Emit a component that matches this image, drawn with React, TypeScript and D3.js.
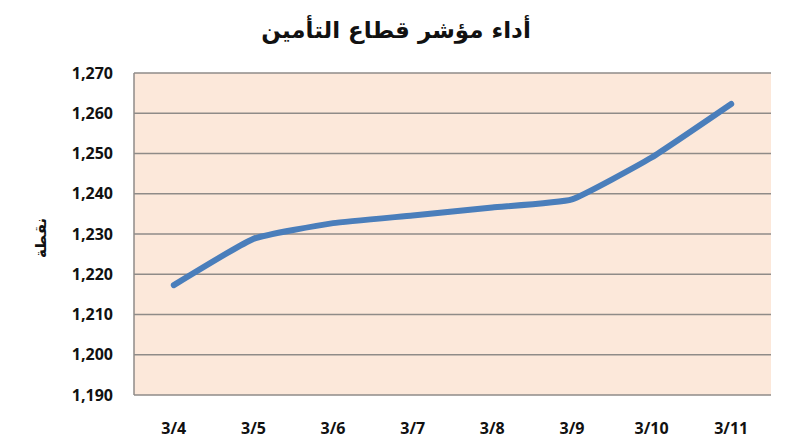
import React from 'react';
import * as d3 from 'd3';

const dates = ['3/4', '3/5', '3/6', '3/7', '3/8', '3/9', '3/10', '3/11'];
const indexValues = [1217.3, 1228.8, 1232.7, 1234.6, 1236.6, 1238.6, 1249.0, 1262.3];
const yTicks = [1190, 1200, 1210, 1220, 1230, 1240, 1250, 1260, 1270];

const title = 'أداء مؤشر قطاع التأمين';
const yLabel = 'نقطة';

const width = 792;
const height = 446;
const margin = { top: 73, right: 21, bottom: 51, left: 134 };

const App: React.FC = () => {
  const innerWidth = width - margin.left - margin.right;
  const innerHeight = height - margin.top - margin.bottom;

  const x = d3.scaleBand<string>().domain(dates).range([0, innerWidth]);
  const y = d3.scaleLinear().domain([1190, 1270]).range([innerHeight, 0]);

  // Excel-style light smoothing
  const line = d3
    .line<number>()
    .x((_, i) => (x(dates[i]) ?? 0) + x.bandwidth() / 2)
    .y(d => y(d))
    .curve(d3.curveCardinal.tension(0.6));

  const fmt = d3.format(',');

  return (
    <svg width={width} height={height} style={{ display: 'block', position: 'absolute', left: 0, top: 0 }}>
      <rect width={width} height={height} fill="#ffffff" />
      <text
        x={396}
        y={38}
        textAnchor="middle"
        fontFamily="'DejaVu Sans', sans-serif"
        fontWeight="bold"
        fontSize={23}
        direction="rtl"
        fill="#111"
      >
        {title}
      </text>
      <text
        transform="translate(46,238) rotate(-90)"
        textAnchor="middle"
        fontFamily="'DejaVu Sans', sans-serif"
        fontWeight="bold"
        fontSize={15}
        direction="rtl"
        fill="#111"
      >
        {yLabel}
      </text>
      <g transform={`translate(${margin.left},${margin.top})`}>
        <rect width={innerWidth} height={innerHeight} fill="#fce8da" />
        {yTicks.map(t => (
          <g key={t}>
            <line x1={0} x2={innerWidth} y1={y(t)} y2={y(t)} stroke="#8f8b88" strokeWidth={1.5} />
            <text
              x={-21}
              y={y(t)}
              dy="0.35em"
              textAnchor="end"
              fontFamily="'Open Sans', sans-serif"
              fontWeight="bold"
              fontSize={16}
              fill="#111"
            >
              {fmt(t)}
            </text>
          </g>
        ))}
        <line x1={0} x2={0} y1={0} y2={innerHeight} stroke="#8f8b88" strokeWidth={1.5} />
        {dates.map(d => (
          <text
            key={d}
            x={(x(d) ?? 0) + x.bandwidth() / 2}
            y={innerHeight + 39}
            textAnchor="middle"
            fontFamily="'Open Sans', sans-serif"
            fontWeight="bold"
            fontSize={16}
            fill="#111"
          >
            {d}
          </text>
        ))}
        <path
          d={line(indexValues) ?? ''}
          fill="none"
          stroke="#4a7ebb"
          strokeWidth={6}
          strokeLinecap="round"
          strokeLinejoin="round"
        />
      </g>
    </svg>
  );
};

export default App;
